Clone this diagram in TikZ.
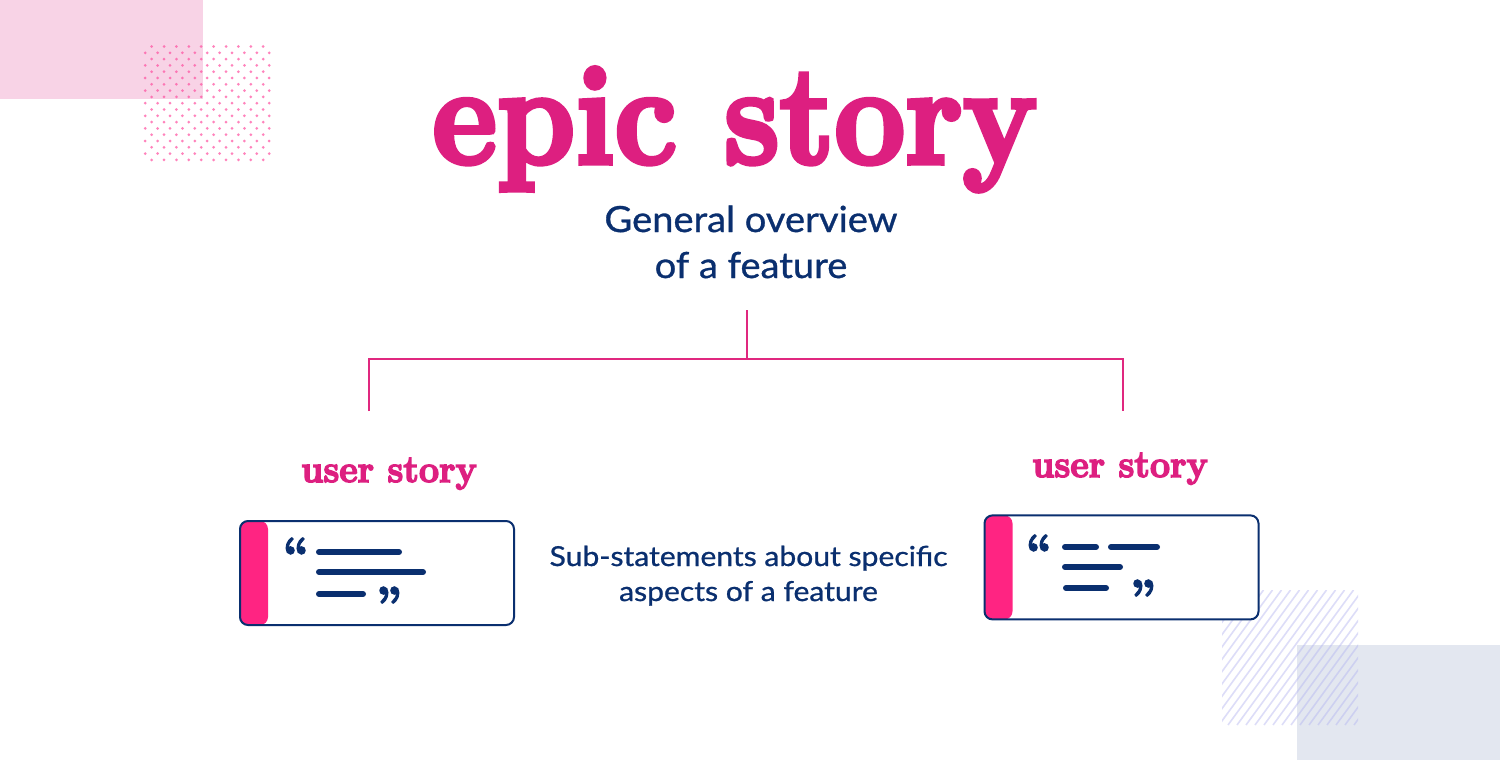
\documentclass[tikz,border=0pt]{standalone}
\usepackage{fontspec}
\newfontfamily\subfont[FakeBold=0.8]{Lato}
\newfontfamily\displayfont[Ligatures=TeX, BoldFeatures={FakeBold=4}]{Latin Modern Roman}
\newfontfamily\smalldisplay[Ligatures=TeX, BoldFeatures={FakeBold=4}]{Latin Modern Roman}
\definecolor{navy}{HTML}{0A2F6F}
\definecolor{titlepink}{HTML}{DD1F80}
\definecolor{linepink}{HTML}{E0287F}
\definecolor{barpink}{HTML}{FF2482}
\definecolor{softpink}{HTML}{F8D3E6}
\definecolor{dotpink}{HTML}{FF4FA0}
\definecolor{hatchblue}{HTML}{B4B4F0}
\definecolor{softgray}{HTML}{E3E7F0}
\tikzset{
  display/.style={text=titlepink, inner sep=0pt, anchor=base},
  subtext/.style={text=navy, inner sep=0pt, anchor=base, font=\subfont\fontsize{36}{42}\selectfont},
  midtext/.style={text=navy, inner sep=0pt, anchor=base, font=\subfont\fontsize{27.5}{32}\selectfont},
  branch/.style={draw=linepink, line width=2pt},
  card/.style={draw=navy, line width=2pt, rounded corners=8pt, fill=white,
    minimum width=274pt, minimum height=104pt, inner sep=0pt,
    path picture={\fill[barpink] (path picture bounding box.north west) rectangle ([xshift=28pt]path picture bounding box.south west);}},
  textline/.style={draw=navy, line width=6pt, line cap=round},
  quotemark/.style={text=navy, inner sep=0pt, anchor=north, font=\smalldisplay\bfseries\fontsize{46}{46}\selectfont},
  dot/.style={fill=dotpink, opacity=0.7},
}
\begin{document}
\begin{tikzpicture}[x=1pt, y=-1pt]
\useasboundingbox (0,0) rectangle (1500,760);
\fill[white] (0,0) rectangle (1500,760);
% decorations top left
\fill[softpink] (0,0) rectangle (203,99);
\foreach \k in {0,...,9} {
  \foreach \i in {0,...,9} {
    \path[dot] ({151.6+12.4*\i},{46.5+12.6*\k}) circle (1.5);
  }
}
\foreach \k in {0,...,8} {
  \foreach \i in {0,...,10} {
    \path[dot] ({145.2+12.4*\i},{52.8+12.6*\k}) circle (1.5);
  }
}
% decorations bottom right
\fill[softgray] (1297,645) rectangle (1500,760);
\begin{scope}
  \clip (1222,590) rectangle (1358,725);
  \foreach \i in {0,...,26} {
    \draw[hatchblue, opacity=0.45, line width=1.6pt] ({1120+9*\i},725) -- ({1120+9*\i+98.5},590);
  }
\end{scope}
% title
\node[display, font=\displayfont\bfseries\fontsize{140}{140}\selectfont] (epic) at (735,163) {\scalebox{0.895}[1]{epic story}};
\node[subtext] (sub1) at (751,232) {\scalebox{1.058}[1]{General overview}};
\node[subtext] (sub2) at (751,278) {\scalebox{1.058}[1]{of a feature}};
% connectors
\coordinate (top) at (747,310);
\coordinate (mid) at (747,359);
\coordinate (jl) at (369,359);
\coordinate (jr) at (1123,359);
\coordinate (el) at (369,411);
\coordinate (er) at (1123,411);
\draw[branch] (top) -- (mid);
\draw[branch] (el) -- (jl) -- (jr) -- (er);
% user stories
\node[display, font=\smalldisplay\bfseries\fontsize{38}{38}\selectfont] (usl) at (389,482) {\scalebox{0.94}[1]{user story}};
\node[display, font=\smalldisplay\bfseries\fontsize{38}{38}\selectfont] (usr) at (1120,477) {\scalebox{0.94}[1]{user story}};
% cards
\node[card] (cardl) at (377,573) {};
\node[card] (cardr) at (1121.5,567.4) {};
% left card contents
\node[quotemark] (ql1) at (296,538) {“};
\coordinate (l1a) at (319,552); \coordinate (l1b) at (399,552);
\coordinate (l2a) at (319,572); \coordinate (l2b) at (423,572);
\coordinate (l3a) at (319,594); \coordinate (l3b) at (363,594);
\draw[textline] (l1a) -- (l1b);
\draw[textline] (l2a) -- (l2b);
\draw[textline] (l3a) -- (l3b);
\node[quotemark] (ql2) at (389,587) {”};
% right card contents
\node[quotemark] (qr1) at (1039,535) {“};
\coordinate (r1a) at (1065,547); \coordinate (r1b) at (1096,547);
\coordinate (r1c) at (1111,547); \coordinate (r1d) at (1157,547);
\coordinate (r2a) at (1065,567); \coordinate (r2b) at (1120,567);
\coordinate (r3a) at (1066,588); \coordinate (r3b) at (1106,588);
\draw[textline] (r1a) -- (r1b);
\draw[textline] (r1c) -- (r1d);
\draw[textline] (r2a) -- (r2b);
\draw[textline] (r3a) -- (r3b);
\node[quotemark] (qr2) at (1143,580) {”};
% middle text
\node[midtext] (mid1) at (748.5,566) {\scalebox{1.094}[1]{Sub-statements about specific}};
\node[midtext] (mid2) at (748.5,601) {\scalebox{1.094}[1]{aspects of a feature}};
\end{tikzpicture}
\end{document}
